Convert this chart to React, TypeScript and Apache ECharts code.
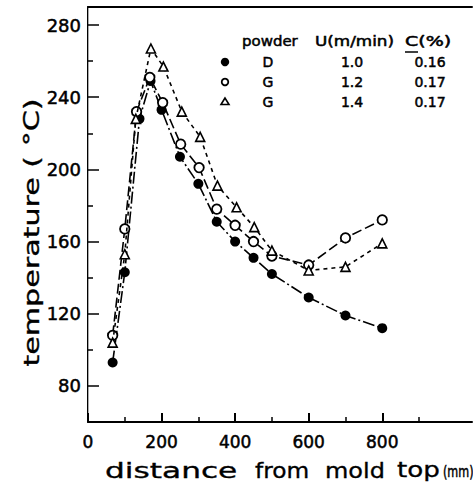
import React, { useEffect, useRef } from "react";
import * as echarts from "echarts";

const distD = [67, 100, 140, 170, 200, 250, 300, 350, 400, 450, 500, 600, 700, 800];
const tempD = [93, 143, 228, 249, 233, 207, 192, 171, 160, 151, 142, 129, 119, 112];
const distG12 = [67, 100, 132, 168, 203, 252, 302, 350, 400, 450, 500, 600, 700, 800];
const tempG12 = [108, 167, 232, 251, 237, 214, 201, 178, 169, 160, 152, 147, 162, 172];
const distG14 = [67, 100, 130, 171, 205, 255, 305, 352, 404, 452, 500, 600, 700, 800];
const tempG14 = [104, 153, 228, 267, 257, 232, 218, 191, 179, 168, 155, 144, 146, 159];

const yMajor = [80, 120, 160, 200, 240, 280];
const yMinor = [100, 140, 180, 220, 260];
const xMajor = [0, 200, 400, 600, 800];
const xMinor = [100, 300, 500, 700, 900];

const legendHeader = ["powder", "U(m/min)", "C(%)"];
const legendPowder = ["D", "G", "G"];
const legendU = ["1.0", "1.2", "1.4"];
const legendC = ["0.16", "0.17", "0.17"];

const FONT = "DejaVu Sans";

const zip = (xs: number[], ys: number[]) => xs.map((x, i) => [x, ys[i]]);

export default function App() {
  const ref = useRef<HTMLDivElement>(null);
  useEffect(() => {
    if (!ref.current) return;
    const chart = echarts.init(ref.current, null, { renderer: "svg" });
    const rowY = [62, 82, 101.5];
    const hdrFont = `14px '${FONT}'`;
    const rowFont = `14px '${FONT}'`;
    const ink = { fill: "#000", stroke: "#000", lineWidth: 0.5 };
    const legendGraphics: any[] = [
      { type: "text", x: 242, y: 41, scaleX: 1.07, style: { text: legendHeader[0], font: hdrFont, ...ink, verticalAlign: "middle" } },
      { type: "text", x: 315, y: 41, scaleX: 1.2, style: { text: legendHeader[1], font: hdrFont, ...ink, verticalAlign: "middle" } },
      { type: "text", x: 405, y: 41, scaleX: 1.36, style: { text: legendHeader[2], font: hdrFont, ...ink, verticalAlign: "middle" } },
      { type: "line", shape: { x1: 405, y1: 52, x2: 418, y2: 52 }, style: { stroke: "#000", lineWidth: 1.5 } },
      { type: "circle", shape: { cx: 225, cy: rowY[0], r: 4.2 }, style: { fill: "#000" } },
      { type: "circle", shape: { cx: 225, cy: rowY[1], r: 3.3 }, style: { fill: "#fff", stroke: "#000", lineWidth: 1.8 } },
      { type: "polygon", shape: { points: [[225, rowY[2] - 3.5], [221, rowY[2] + 3], [229, rowY[2] + 3]] }, style: { fill: "#fff", stroke: "#000", lineWidth: 1.6 } },
    ];
    rowY.forEach((y, i) => {
      legendGraphics.push({ type: "text", x: 268, y, style: { text: legendPowder[i], font: rowFont, ...ink, align: "center", verticalAlign: "middle" } });
      legendGraphics.push({ type: "text", x: 352, y, style: { text: legendU[i], font: rowFont, ...ink, align: "center", verticalAlign: "middle" } });
      legendGraphics.push({ type: "text", x: 430, y, style: { text: legendC[i], font: rowFont, ...ink, align: "center", verticalAlign: "middle" } });
    });

    const titleFont = `22px '${FONT}'`;
    const xTitleWords: [string, number, number][] = [
      ["distance", 105, 1.42],
      ["from", 255, 1.06],
      ["mold", 325, 1.09],
      ["top", 397, 1.19],
    ];
    const xTitle: any[] = xTitleWords.map(([t, x, s]) => ({
      type: "text", x, y: 470, scaleX: s,
      style: { text: t, font: titleFont, ...ink, lineWidth: 0.35, verticalAlign: "middle" },
    }));
    xTitle.push({
      type: "text", x: 443, y: 471, scaleX: 0.7,
      style: { text: "(mm)", font: `16px '${FONT}'`, ...ink, verticalAlign: "middle" },
    });

    const labelInk = { color: "#000", textBorderColor: "#000", textBorderWidth: 0.5, fontFamily: FONT };

    chart.setOption({
      animation: false,
      backgroundColor: "#fff",
      grid: { left: 88, top: 7, right: 1, bottom: 64 },
      xAxis: [
        {
          type: "value", min: 0, max: 1044, position: "bottom",
          axisLine: { show: true, lineStyle: { color: "#000", width: 2 } },
          axisTick: { show: true, inside: true, length: 9, lineStyle: { color: "#000", width: 2 }, customValues: xMajor },
          axisLabel: { customValues: xMajor, fontSize: 17, ...labelInk, margin: 11 },
          splitLine: { show: false },
        },
        {
          type: "value", min: 0, max: 1044, position: "bottom",
          axisLine: { show: false },
          axisTick: { show: true, inside: true, length: 5, lineStyle: { color: "#000", width: 1.5 }, customValues: xMinor },
          axisLabel: { show: false },
          splitLine: { show: false },
        },
        {
          type: "value", min: 0, max: 1044, position: "top",
          axisLine: { show: true, lineStyle: { color: "#000", width: 2 } },
          axisTick: { show: false },
          axisLabel: { show: false },
          splitLine: { show: false },
        },
      ],
      yAxis: [
        {
          type: "value", min: 60, max: 290, position: "left",
          axisLine: { show: true, lineStyle: { color: "#000", width: 2 } },
          axisTick: { show: true, inside: true, length: 11, lineStyle: { color: "#000", width: 1.5 }, customValues: yMajor },
          axisLabel: { customValues: yMajor, fontSize: 18, ...labelInk, margin: 7 },
          splitLine: { show: false },
        },
        {
          type: "value", min: 60, max: 290, position: "left",
          axisLine: { show: false },
          axisTick: { show: true, inside: true, length: 5, lineStyle: { color: "#000", width: 1.5 }, customValues: yMinor },
          axisLabel: { show: false },
          splitLine: { show: false },
        },
        {
          type: "value", min: 60, max: 290, position: "right",
          axisLine: { show: true, lineStyle: { color: "#aaa", width: 1 } },
          axisTick: { show: false },
          axisLabel: { show: false },
          splitLine: { show: false },
        },
      ],
      series: [
        {
          type: "line",
          name: "D 1.0",
          data: zip(distD, tempD),
          symbol: "circle",
          symbolSize: 10,
          itemStyle: { color: "#000" },
          lineStyle: { color: "#000", width: 1.6, type: [12, 3, 2, 3] },
          z: 3,
        },
        {
          type: "line",
          name: "G 1.2",
          data: zip(distG12, tempG12),
          symbol: "circle",
          symbolSize: 9.5,
          itemStyle: { color: "#fff", borderColor: "#000", borderWidth: 1.8 },
          lineStyle: { color: "#000", width: 1.6, type: [10, 4] },
          z: 4,
        },
        {
          type: "line",
          name: "G 1.4",
          data: zip(distG14, tempG14),
          symbol: "triangle",
          symbolSize: 9,
          itemStyle: { color: "#fff", borderColor: "#000", borderWidth: 1.6 },
          lineStyle: { color: "#000", width: 1.6, type: [4, 4] },
          z: 5,
        },
      ],
      graphic: [
        ...legendGraphics,
        {
          type: "text", x: 31, y: 232.5, rotation: Math.PI / 2, scaleX: 1.37,
          style: { text: "temperature ( °C)", font: titleFont, ...ink, lineWidth: 0.35, align: "center", verticalAlign: "middle" },
        },
        ...xTitle,
      ],
    });
    return () => chart.dispose();
  }, []);
  return <div ref={ref} style={{ width: 473, height: 486, position: "absolute", left: 0, top: 0 }} />;
}
